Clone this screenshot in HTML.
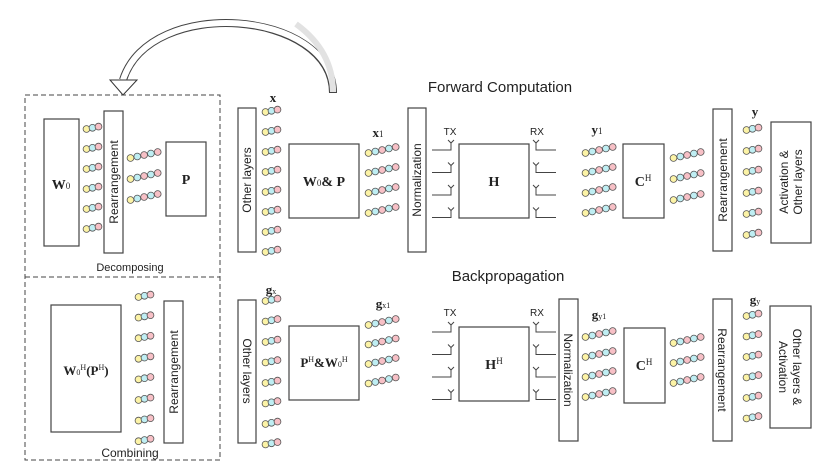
<!DOCTYPE html>
<html><head><meta charset="utf-8">
<style>
html,body{margin:0;padding:0;background:#fff;}
svg{display:block;}
text{font-family:"Liberation Sans",sans-serif;fill:#222;}
.m{font-family:"Liberation Serif",serif;font-weight:bold;}
.b{fill:#fff;stroke:#444;stroke-width:1.2;}
</style></head>
<body>
<svg id="s" width="831" height="466" viewBox="0 0 831 466" xmlns="http://www.w3.org/2000/svg">
<!-- big curved arrow -->
<path d="M333 93 C 333 10, 150 -5, 123 80" fill="none" stroke="#444" stroke-width="8"/>
<path d="M333 92 C 333 10, 150 -5, 123 80" fill="none" stroke="#fff" stroke-width="6"/>
<path d="M333 92 C 333 62, 318 40, 296 24" fill="none" stroke="#e2e2e2" stroke-width="6"/>
<polygon points="110,80 137,80 123,95" fill="#fff" stroke="#333" stroke-width="1"/>

<!-- dashed boxes -->
<rect x="25" y="95" width="195" height="365" fill="none" stroke="#444" stroke-width="1" stroke-dasharray="5,3"/>
<line x1="25" y1="277" x2="220" y2="277" stroke="#444" stroke-width="1" stroke-dasharray="5,3"/>
<text x="130" y="271" font-size="11" text-anchor="middle">Decomposing</text>
<text x="130" y="457" font-size="12" text-anchor="middle">Combining</text>

<!-- titles -->
<text x="500" y="92" font-size="15" text-anchor="middle">Forward Computation</text>
<text x="508" y="281" font-size="15" text-anchor="middle">Backpropagation</text>

<!-- top left -->
<rect class="b" x="44" y="119" width="35" height="127"/>
<text class="m" x="61" y="189" font-size="14" text-anchor="middle">W<tspan font-size="9" font-weight="normal">0</tspan></text>
<rect class="b" x="104" y="111" width="19" height="142"/>
<text x="118" y="182" font-size="12" text-anchor="middle" transform="rotate(-90 118 182)">Rearrangement</text>
<rect class="b" x="166" y="142" width="40" height="74"/>
<text class="m" x="186" y="184" font-size="14" text-anchor="middle">P</text>

<!-- top forward -->
<rect class="b" x="238" y="108" width="18" height="144"/>
<text x="251" y="180" font-size="12" text-anchor="middle" transform="rotate(-90 251 180)">Other layers</text>
<text class="m" x="273" y="102" font-size="13" text-anchor="middle">x</text>
<rect class="b" x="289" y="144" width="70" height="74"/>
<text class="m" x="324" y="186" font-size="14" text-anchor="middle">W<tspan font-size="9" font-weight="normal">0</tspan>&amp; P</text>
<text class="m" x="378" y="137" font-size="13" text-anchor="middle">x<tspan font-size="9" font-weight="normal">1</tspan></text>
<rect class="b" x="408" y="108" width="18" height="144"/>
<text x="421" y="180" font-size="12" text-anchor="middle" transform="rotate(-90 421 180)">Normalization</text>
<text x="450" y="135" font-size="10" text-anchor="middle">TX</text>
<text x="537" y="135" font-size="10" text-anchor="middle">RX</text>
<rect class="b" x="459" y="144" width="70" height="74"/>
<text class="m" x="494" y="186" font-size="14" text-anchor="middle">H</text>
<text class="m" x="597" y="134" font-size="13" text-anchor="middle">y<tspan font-size="9" font-weight="normal">1</tspan></text>
<rect class="b" x="623" y="144" width="41" height="74"/>
<text class="m" x="643" y="186" font-size="14" text-anchor="middle">C<tspan font-size="9" font-weight="normal" dy="-5">H</tspan></text>
<rect class="b" x="713" y="109" width="19" height="142"/>
<text x="727" y="180" font-size="12" text-anchor="middle" transform="rotate(-90 727 180)">Rearrangement</text>
<text class="m" x="755" y="116" font-size="13" text-anchor="middle">y</text>
<rect class="b" x="771" y="122" width="40" height="121"/>
<text font-size="12" text-anchor="middle" transform="translate(791 182) rotate(-90)"><tspan x="0" y="-3">Activation &amp;</tspan><tspan x="0" y="11">Other layers</tspan></text>

<!-- bottom left -->
<rect class="b" x="51" y="305" width="70" height="127"/>
<text class="m" x="86" y="375" font-size="13" text-anchor="middle">W<tspan font-size="8" font-weight="normal">0</tspan><tspan font-size="8" font-weight="normal" dy="-5">H</tspan><tspan dy="5">(P</tspan><tspan font-size="8" font-weight="normal" dy="-5">H</tspan><tspan dy="5">)</tspan></text>
<rect class="b" x="164" y="301" width="19" height="142"/>
<text x="178" y="372" font-size="12" text-anchor="middle" transform="rotate(-90 178 372)">Rearrangement</text>

<!-- bottom backprop -->
<rect class="b" x="238" y="300" width="18" height="143"/>
<text x="243" y="371" font-size="12" text-anchor="middle" transform="rotate(90 243 371)">Other layers</text>
<text class="m" x="271" y="294" font-size="13" text-anchor="middle">g<tspan font-size="8" font-weight="normal">x</tspan></text>
<rect class="b" x="289" y="326" width="70" height="74"/>
<text class="m" x="324" y="367" font-size="13" text-anchor="middle">P<tspan font-size="8" font-weight="normal" dy="-5">H</tspan><tspan dy="5">&amp;W</tspan><tspan font-size="8" font-weight="normal">0</tspan><tspan font-size="8" font-weight="normal" dy="-5">H</tspan></text>
<text class="m" x="383" y="308" font-size="13" text-anchor="middle">g<tspan font-size="8" font-weight="normal">x1</tspan></text>
<text x="450" y="316" font-size="10" text-anchor="middle">TX</text>
<text x="537" y="316" font-size="10" text-anchor="middle">RX</text>
<rect class="b" x="459" y="327" width="70" height="74"/>
<text class="m" x="494" y="369" font-size="14" text-anchor="middle">H<tspan font-size="9" font-weight="normal" dy="-5">H</tspan></text>
<rect class="b" x="559" y="299" width="19" height="142"/>
<text x="564" y="370" font-size="12" text-anchor="middle" transform="rotate(90 564 370)">Normalization</text>
<text class="m" x="599" y="319" font-size="13" text-anchor="middle">g<tspan font-size="8" font-weight="normal">y1</tspan></text>
<rect class="b" x="624" y="328" width="41" height="75"/>
<text class="m" x="644" y="370" font-size="14" text-anchor="middle">C<tspan font-size="9" font-weight="normal" dy="-5">H</tspan></text>
<rect class="b" x="713" y="299" width="19" height="142"/>
<text x="718" y="370" font-size="12" text-anchor="middle" transform="rotate(90 718 370)">Rearrangement</text>
<text class="m" x="755" y="304" font-size="13" text-anchor="middle">g<tspan font-size="8" font-weight="normal">y</tspan></text>
<rect class="b" x="770" y="306" width="41" height="122"/>
<text font-size="12" text-anchor="middle" transform="translate(790 367) rotate(90)"><tspan x="0" y="-3">Other layers &amp;</tspan><tspan x="0" y="11">Activation</tspan></text>

<g id="dots"></g>
<g id="ant" stroke="#444" stroke-width="1" fill="none"></g>
</svg>
<script>
var NS="http://www.w3.org/2000/svg";
var g=document.getElementById("dots"), a=document.getElementById("ant");
var cols=["#fcf3a6","#bfeef3","#f7c0c6"];
function row(x,y,n){
  var sp=n==3?6:6.8, rise=n==3?1.2:1.5;
  for(var i=0;i<n;i++){
    var c=document.createElementNS(NS,"circle");
    c.setAttribute("cx",x+3.5+i*sp);c.setAttribute("cy",y-i*rise);c.setAttribute("r",3.4);
    c.setAttribute("fill",cols[n==3?i:[0,1,2,1,2][i]]);c.setAttribute("stroke","#555");c.setAttribute("stroke-width","0.8");
    g.appendChild(c);
  }
}
var i;
for(i=0;i<6;i++) row(83,129+i*20,3);
for(i=0;i<3;i++) row(127,158+i*21,5);
for(i=0;i<8;i++) row(262,112+i*20,3);
for(i=0;i<4;i++) row(365,153+i*20,5);
for(i=0;i<4;i++) row(582,153+i*20,5);
for(i=0;i<3;i++) row(670,158+i*21,5);
for(i=0;i<6;i++) row(743,130+i*21,3);
for(i=0;i<8;i++) row(135,297+i*20.6,3);
for(i=0;i<8;i++) row(262,301+i*20.5,3);
for(i=0;i<4;i++) row(365,325+i*19.5,5);
for(i=0;i<4;i++) row(582,337+i*20,5);
for(i=0;i<3;i++) row(670,343+i*20,5);
for(i=0;i<6;i++) row(743,316+i*20.5,3);
function path(d){var p=document.createElementNS(NS,"path");p.setAttribute("d",d);a.appendChild(p);}
function ants(y0,step,lx,rx){
  for(var k=0;k<4;k++){
    var y=y0+k*step;
    path("M"+lx+" "+y+" H"+(lx+19)+" V"+(y-7)+" M"+(lx+16)+" "+(y-10)+" L"+(lx+19)+" "+(y-7)+" L"+(lx+22)+" "+(y-10));
    path("M"+(rx+20)+" "+y+" H"+rx+" V"+(y-7)+" M"+(rx-3)+" "+(y-10)+" L"+rx+" "+(y-7)+" L"+(rx+3)+" "+(y-10));
  }
}
ants(150,22.5,432,536);
ants(332,22.5,432,536);
</script>
</body></html>
